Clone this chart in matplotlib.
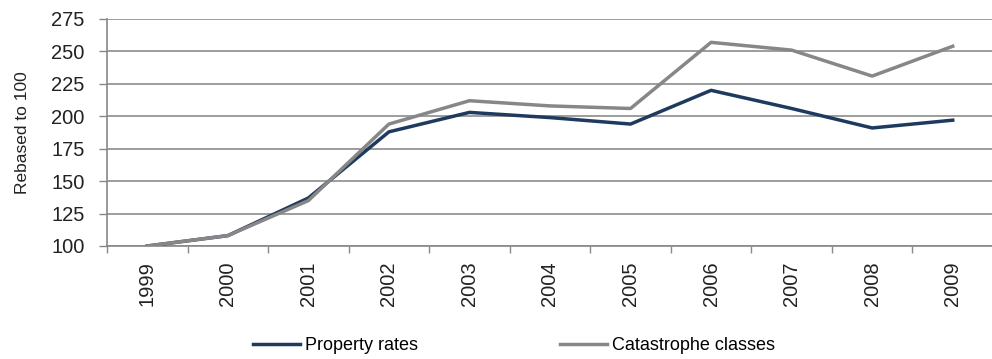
import matplotlib
matplotlib.use("Agg")
import matplotlib.pyplot as plt
import numpy as np

years = ["1999", "2000", "2001", "2002", "2003", "2004", "2005", "2006", "2007", "2008", "2009"]
property_rates = [100, 108, 137, 188, 203, 199, 194, 220, 206, 191, 197]
catastrophe = [100, 108, 135, 194, 212, 208, 206, 257, 251, 231, 254]
yticks = [100, 125, 150, 175, 200, 225, 250, 275]

plt.rcParams['font.family'] = ['Liberation Sans', 'DejaVu Sans']
fs_tick, fs_leg, fs_lab = 14.5, 13, 12.5

fig = plt.figure(figsize=(9.92, 3.59), dpi=100)
ax = fig.add_axes([107/992, 1-246/359, (993-107)/992, (246-19)/359])

x = np.arange(len(years))
ax.plot(x, property_rates, color='#1f3a5f', lw=2.5, label='Property rates', zorder=3)
ax.plot(x, catastrophe, color='#878787', lw=2.5, label='Catastrophe classes', zorder=3)

ax.set_xlim(-0.5, len(years)-0.5)
ax.set_ylim(100, 275)
ax.set_yticks(yticks)
ax.set_yticklabels([str(v) for v in yticks], fontsize=fs_tick, color='#222222')
ax.set_xticks(x)
ax.set_xticklabels(years, rotation=90, fontsize=fs_tick, color='#222222')
ax.set_xticks(np.arange(-0.5, len(years)), minor=True)
ax.tick_params(axis='x', which='major', length=0, pad=11)
ax.tick_params(axis='x', which='minor', length=5, color='#888888', width=1)
ax.tick_params(axis='y', length=6, color='#888888', width=1, pad=10)
ax.grid(axis='y', color='#8c8c8c', lw=1.2)
ax.set_axisbelow(True)
for s in ['top', 'right']:
    ax.spines[s].set_visible(False)
for s in ['left', 'bottom']:
    ax.spines[s].set_color('#888888')
    ax.spines[s].set_linewidth(1.2)
ax.set_ylabel('Rebased to 100', fontsize=fs_lab, color='#222222')
ax.yaxis.set_label_coords(-77/886, 0.5)

fig.legend(loc='center', bbox_to_anchor=(514/992, 1-346/359), ncol=2, frameon=False,
           fontsize=fs_leg, handlelength=2.6, handletextpad=0.25, columnspacing=7.9)

fig.savefig('out.png', dpi=100)
